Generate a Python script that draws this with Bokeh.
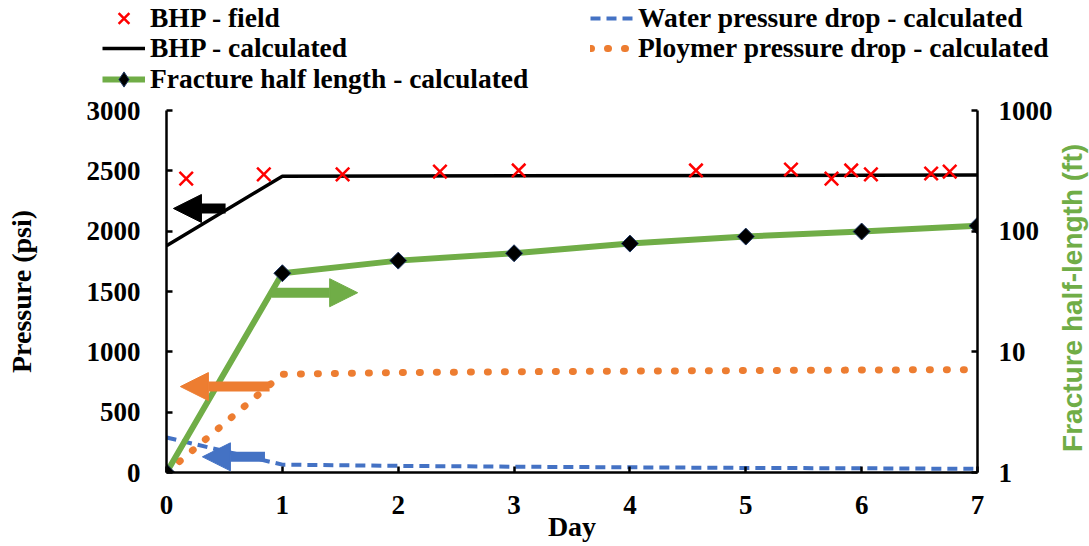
import math
from bokeh.plotting import figure
from bokeh.layouts import column, row
from bokeh.models import (Range1d, LogAxis, LogScale, FixedTicker, PrintfTickFormatter,
                          Legend, LegendItem, Arrow, NormalHead, Label)
from bokeh.embed import file_html
from bokeh.resources import INLINE

# ---------------- data ----------------
field_day = [0.17, 0.84, 1.52, 2.36, 3.04, 4.57, 5.39, 5.74, 5.91, 6.08, 6.60, 6.76]
field_bhp = [2436, 2470, 2470, 2494, 2503, 2503, 2511, 2436, 2503, 2470, 2478, 2494]

calc_day = [0, 1, 7]
calc_bhp = [1880, 2455, 2465]

days = [0, 1, 2, 3, 4, 5, 6, 7]
frac_len = [1, 44.8, 57, 65.6, 78.9, 90.2, 99.3, 111]
water_dp = [290, 65, 55, 48, 43, 38, 35, 30]
polymer_dp = [0, 815, 828, 835, 840, 845, 849, 853]

x_ticks = [0, 1, 2, 3, 4, 5, 6, 7]
p_ticks = [0, 500, 1000, 1500, 2000, 2500, 3000]
f_ticks = [1, 10, 100, 1000]

legend_labels = ["BHP - field", "BHP - calculated", "Fracture half length - calculated",
                 "Water pressure drop - calculated", "Ploymer pressure drop - calculated"]

# arrows pointing to the axis each series belongs to
arrow_x_start = [0.51, 0.91, 0.89, 0.85]
arrow_x_end = [0.06, 1.65, 0.12, 0.31]
arrow_y = [2188, 1490, 712, 130]
arrow_colors = ["#000000", "#70AD47", "#ED7D31", "#4472C4"]

GREEN = "#70AD47"
ORANGE = "#ED7D31"
BLUE = "#4472C4"
RED = "#FF0000"
SERIF = "Liberation Serif"

# styles shared by the chart and its legend keys
water_style = dict(line_color=BLUE, line_width=4, line_dash="10 6")
poly_style = dict(line_color=ORANGE, line_width=7, line_dash="1 16", line_cap="round")
calc_style = dict(line_color="black", line_width=3.5)
frac_line_style = dict(line_color=GREEN, line_width=6)
frac_pt_style = dict(marker="square", angle=math.pi / 4, size=12, fill_color="black",
                     line_color="#1F3864", line_width=1)
field_style = dict(marker="x", size=19, line_color=RED, line_width=2.5)

# ---------------- main chart ----------------
p = figure(width=1055, height=452, x_range=Range1d(0, 7), y_range=Range1d(0, 3000),
           output_backend="svg", toolbar_location=None,
           min_border_left=166, min_border_right=75, min_border_top=16, min_border_bottom=74)
p.extra_y_ranges = {"frac": Range1d(1, 1000)}
p.extra_y_scales = {"frac": LogScale()}
p.outline_line_color = None
p.xgrid.visible = False
p.ygrid.visible = False

right_axis = LogAxis(y_range_name="frac")
p.add_layout(right_axis, "right")


def style_axis(ax, ticks):
    ax.ticker = FixedTicker(ticks=ticks)
    ax.axis_line_width = 2.5
    ax.axis_line_color = "black"
    ax.major_tick_line_width = 2.5
    ax.major_tick_in = 6
    ax.major_tick_out = 0
    ax.minor_tick_line_color = None
    ax.major_label_text_font = SERIF
    ax.major_label_text_font_style = "bold"
    ax.major_label_text_font_size = "27px"
    ax.major_label_text_color = "black"
    ax.axis_label_text_font = SERIF
    ax.axis_label_text_font_style = "bold"
    ax.axis_label_text_font_size = "28px"
    ax.axis_label_text_color = "black"


xa = p.xaxis[0]
style_axis(xa, x_ticks)
xa.axis_label = "Day"
xa.major_label_standoff = 23
xa.axis_label_standoff = -6

ya = p.yaxis[0]
style_axis(ya, p_ticks)
ya.axis_label = "Pressure (psi)"
ya.major_label_standoff = 26
ya.axis_label_standoff = 47

style_axis(right_axis, f_ticks)
right_axis.formatter = PrintfTickFormatter(format="%d")
right_axis.major_label_standoff = 21

r_water = p.line(days, water_dp, **water_style)
r_poly = p.line(days, polymer_dp, **poly_style)
r_calc = p.line(calc_day, calc_bhp, **calc_style)
r_frac_line = p.line(days, frac_len, y_range_name="frac", **frac_line_style)
r_frac_pts = p.scatter(days, frac_len, y_range_name="frac", **frac_pt_style)
r_field = p.scatter(field_day, field_bhp, **field_style)

for xs, xe, yy, c in zip(arrow_x_start, arrow_x_end, arrow_y, arrow_colors):
    p.add_layout(Arrow(x_start=xs, y_start=yy, x_end=xe, y_end=yy,
                       line_color=c, line_width=10,
                       end=NormalHead(size=28, fill_color=c, line_color=c, line_width=1)))

# ---------------- right axis title (reads bottom to top) ----------------
t = figure(width=34, height=452, x_range=Range1d(0, 34), y_range=Range1d(0, 452),
           output_backend="svg", toolbar_location=None, min_border=0,
           x_axis_location=None, y_axis_location=None)
t.outline_line_color = None
t.xgrid.visible = False
t.ygrid.visible = False
t.add_layout(Label(x=17, y=218, text="Fracture half-length (ft)", angle=math.pi / 2,
                   text_align="center", text_baseline="middle",
                   text_font="Liberation Sans", text_font_style="bold",
                   text_font_size="28px", text_color=GREEN))

# ---------------- legend strip ----------------
# legend keys: one-point renderers kept outside the strip's visible range
lg = figure(width=1089, height=94, x_range=Range1d(0, 1), y_range=Range1d(0, 1),
            output_backend="svg", toolbar_location=None, min_border=0,
            x_axis_location=None, y_axis_location=None)
lg.outline_line_color = None
lg.xgrid.visible = False
lg.ygrid.visible = False
off = [-10]
k_field = lg.scatter(off, off, **field_style)
k_calc = lg.line(off, off, **calc_style)
k_frac_l = lg.line(off, off, **frac_line_style)
k_frac_p = lg.scatter(off, off, marker="diamond", fill_color="black",
                      line_color="#1F3864", line_width=1)
k_water = lg.line(off, off, **water_style)
k_poly = lg.line(off, off, **poly_style)

legend_rows = [
    ([LegendItem(label=legend_labels[0], renderers=[k_field]),
      LegendItem(label=legend_labels[3], renderers=[k_water])], 57.5),
    ([LegendItem(label=legend_labels[1], renderers=[k_calc]),
      LegendItem(label=legend_labels[4], renderers=[k_poly])], 27),
    ([LegendItem(label=legend_labels[2], renderers=[k_frac_l, k_frac_p])], -3.5),
]
for items, vy in legend_rows:
    lgd = Legend(items=items, location=(102, vy), orientation="horizontal")
    lgd.label_text_font = SERIF
    lgd.label_text_font_style = "bold"
    lgd.label_text_font_size = "27.5px"
    lgd.label_text_color = "black"
    lgd.glyph_width = 43
    lgd.glyph_height = 38
    lgd.label_standoff = 5
    lgd.label_width = 440
    lgd.spacing = 0
    lgd.padding = 0
    lgd.margin = 0
    lgd.border_line_color = None
    lgd.background_fill_alpha = 0
    lg.add_layout(lgd, "center")

layout = column(lg, row(p, t, spacing=0), spacing=0)
open("out.html", "w").write(file_html(layout, INLINE))
